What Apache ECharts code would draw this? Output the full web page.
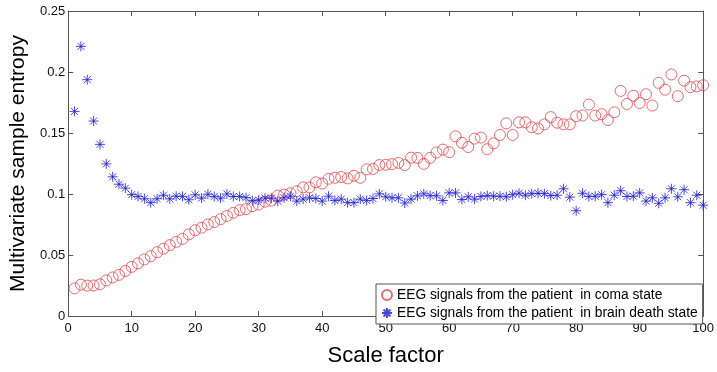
<!DOCTYPE html>
<html>
<head>
<meta charset="utf-8">
<script src="https://cdn.jsdelivr.net/npm/echarts@6/dist/echarts.min.js"></script>
<style>
  html, body { margin: 0; padding: 0; background: #fff; }
  #chart { width: 717px; height: 372px; }
</style>
</head>
<body>
<div id="chart"></div>
<script>
// scale factors 1..100
const scaleFactors = [
  1, 2, 3, 4, 5, 6, 7, 8, 9, 10, 11, 12, 13, 14, 15, 16, 17, 18, 19, 20,
  21, 22, 23, 24, 25, 26, 27, 28, 29, 30, 31, 32, 33, 34, 35, 36, 37, 38, 39, 40,
  41, 42, 43, 44, 45, 46, 47, 48, 49, 50, 51, 52, 53, 54, 55, 56, 57, 58, 59, 60,
  61, 62, 63, 64, 65, 66, 67, 68, 69, 70, 71, 72, 73, 74, 75, 76, 77, 78, 79, 80,
  81, 82, 83, 84, 85, 86, 87, 88, 89, 90, 91, 92, 93, 94, 95, 96, 97, 98, 99, 100
];

const comaValues = [
  0.0226, 0.0257, 0.0249, 0.0250, 0.0260, 0.0292, 0.0316, 0.0337, 0.0369, 0.0403,
  0.0432, 0.0464, 0.0490, 0.0523, 0.0552, 0.0581, 0.0608, 0.0632, 0.0669, 0.0703,
  0.0724, 0.0751, 0.0770, 0.0794, 0.0820, 0.0846, 0.0868, 0.0876, 0.0900, 0.0913,
  0.0937, 0.0945, 0.0987, 0.0995, 0.1006, 0.1022, 0.1054, 0.1054, 0.1096, 0.1086,
  0.1125, 0.1133, 0.1139, 0.1128, 0.1149, 0.1133, 0.1202, 0.1205, 0.1237, 0.1240,
  0.1245, 0.1255, 0.1237, 0.1298, 0.1296, 0.1247, 0.1296, 0.1340, 0.1364, 0.1343,
  0.1473, 0.1420, 0.1385, 0.1454, 0.1462, 0.1367, 0.1415, 0.1484, 0.1579, 0.1484,
  0.1587, 0.1587, 0.1547, 0.1537, 0.1571, 0.1630, 0.1584, 0.1571, 0.1571, 0.1638,
  0.1643, 0.1733, 0.1643, 0.1654, 0.1606, 0.1670, 0.1845, 0.1738, 0.1805, 0.1746,
  0.1818, 0.1725, 0.1911, 0.1855, 0.1980, 0.1802, 0.1929, 0.1876, 0.1882, 0.1892
];

const brainDeathValues = [
  0.1677, 0.2210, 0.1937, 0.1598, 0.1407, 0.1247, 0.1141, 0.1080, 0.1048, 0.0995,
  0.0980, 0.0961, 0.0929, 0.0961, 0.0990, 0.0960, 0.0982, 0.0980, 0.0953, 0.0993,
  0.0966, 0.0998, 0.0980, 0.0966, 0.1000, 0.0980, 0.0980, 0.0970, 0.0945, 0.0950,
  0.0966, 0.0966, 0.0942, 0.0969, 0.0982, 0.0942, 0.0958, 0.0969, 0.0963, 0.0942,
  0.0982, 0.0947, 0.0958, 0.0929, 0.0929, 0.0958, 0.0947, 0.0963, 0.1001, 0.0977,
  0.0969, 0.0969, 0.0926, 0.0958, 0.0985, 0.1001, 0.0987, 0.0985, 0.0947, 0.1009,
  0.1009, 0.0955, 0.0977, 0.0958, 0.0980, 0.0987, 0.0982, 0.0982, 0.0977, 0.0995,
  0.1006, 0.0990, 0.1003, 0.1006, 0.1003, 0.0987, 0.0990, 0.1043, 0.0974, 0.0863,
  0.1006, 0.0980, 0.0982, 0.0995, 0.0929, 0.0990, 0.1027, 0.0980, 0.0982, 0.1009,
  0.0942, 0.0969, 0.0924, 0.0969, 0.1043, 0.0977, 0.1035, 0.0929, 0.0990, 0.0908
];

const xTicks = [0, 10, 20, 30, 40, 50, 60, 70, 80, 90, 100];
const yTicks = [0, 0.05, 0.1, 0.15, 0.2, 0.25];

const comaName = 'EEG signals from the patient  in coma state';
const deathName = 'EEG signals from the patient  in brain death state';

const red = '#e0474c';
const blue = '#1a1ad6';
const frame = '#555';
const asterisk = 'path://M0,-1L0,1M-1,0L1,0M-0.7,-0.7L0.7,0.7M-0.7,0.7L0.7,-0.7';

const chart = echarts.init(document.getElementById('chart'), null, { renderer: 'canvas' });

const tickStyle = { show: true, inside: true, length: 5, lineStyle: { color: frame } };
const lineStyle = { show: true, onZero: false, lineStyle: { color: frame, width: 1 } };
const labelFont = { fontFamily: 'Liberation Sans', fontSize: 13, color: '#111' };

const option = {
  backgroundColor: '#fff',
  animation: false,
  grid: { left: 62, right: 12, top: 11, bottom: 47 },
  xAxis: [{
    type: 'value',
    min: xTicks[0],
    max: xTicks[xTicks.length - 1],
    interval: 10,
    name: 'Scale factor',
    nameLocation: 'middle',
    nameGap: 29,
    nameTextStyle: { fontFamily: 'Liberation Sans', fontSize: 22, color: '#000' },
    axisLine: lineStyle,
    axisTick: tickStyle,
    axisLabel: Object.assign({ margin: 6 }, labelFont),
    splitLine: { show: false }
  }, {
    type: 'value',
    position: 'top',
    min: xTicks[0],
    max: xTicks[xTicks.length - 1],
    interval: 10,
    axisLine: lineStyle,
    axisTick: tickStyle,
    axisLabel: { show: false },
    splitLine: { show: false }
  }],
  yAxis: [{
    type: 'value',
    min: yTicks[0],
    max: yTicks[yTicks.length - 1],
    interval: 0.05,
    name: 'Multivariate sample entropy',
    nameLocation: 'middle',
    nameGap: 38,
    nameTextStyle: { fontFamily: 'Liberation Sans', fontSize: 21, color: '#000' },
    axisLine: lineStyle,
    axisTick: tickStyle,
    axisLabel: Object.assign({ margin: 3 }, labelFont),
    splitLine: { show: false }
  }, {
    type: 'value',
    position: 'right',
    min: yTicks[0],
    max: yTicks[yTicks.length - 1],
    interval: 0.05,
    axisLine: lineStyle,
    axisTick: tickStyle,
    axisLabel: { show: false },
    splitLine: { show: false }
  }],
  legend: {
    orient: 'vertical',
    left: 376,
    top: 284,
    padding: [4, 5, 4, 5],
    itemGap: 4,
    itemWidth: 10,
    itemHeight: 10,
    backgroundColor: '#fff',
    borderColor: frame,
    borderWidth: 1,
    borderRadius: 0,
    textStyle: { fontFamily: 'Liberation Sans', fontSize: 13.8, color: '#000', lineHeight: 14 },
    data: [comaName, deathName]
  },
  series: [{
    name: comaName,
    type: 'scatter',
    symbol: 'circle',
    symbolSize: 11,
    itemStyle: { color: 'rgba(255,255,255,0)', borderColor: red, borderWidth: 1 },
    data: scaleFactors.map((x, i) => [x, comaValues[i]])
  }, {
    name: deathName,
    type: 'scatter',
    symbol: asterisk,
    symbolSize: 10,
    itemStyle: { color: 'rgba(0,0,0,0)', borderColor: blue, borderWidth: 1 },
    data: scaleFactors.map((x, i) => [x, brainDeathValues[i]])
  }]
};

chart.setOption(option);
</script>
</body>
</html>
